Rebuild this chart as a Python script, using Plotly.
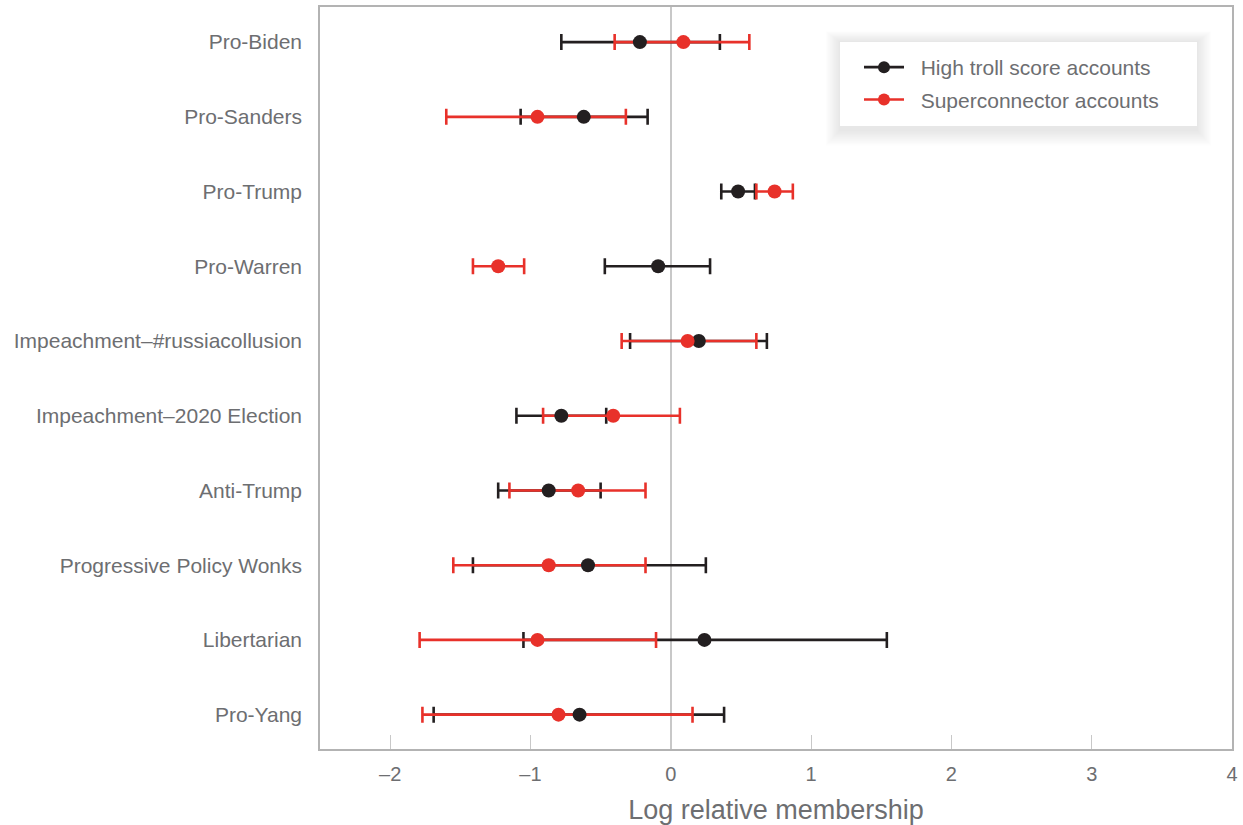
import plotly.graph_objects as go

categories = ["Pro-Biden", "Pro-Sanders", "Pro-Trump", "Pro-Warren",
              "Impeachment–#russiacollusion", "Impeachment–2020 Election",
              "Anti-Trump", "Progressive Policy Wonks", "Libertarian", "Pro-Yang"]

troll_est = [-0.22, -0.62, 0.48, -0.09, 0.20, -0.78, -0.87, -0.59, 0.24, -0.65]
troll_lo = [-0.78, -1.07, 0.36, -0.47, -0.29, -1.10, -1.23, -1.41, -1.05, -1.69]
troll_hi = [0.35, -0.165, 0.60, 0.28, 0.685, -0.46, -0.50, 0.25, 1.54, 0.38]

super_est = [0.09, -0.95, 0.74, -1.23, 0.12, -0.41, -0.66, -0.87, -0.95, -0.80]
super_lo = [-0.40, -1.60, 0.61, -1.41, -0.35, -0.91, -1.15, -1.55, -1.79, -1.77]
super_hi = [0.56, -0.32, 0.87, -1.045, 0.61, 0.065, -0.18, -0.18, -0.105, 0.155]

x_ticks = [-2, -1, 0, 1, 2, 3, 4]
x_tick_text = ["–2", "–1", "0", "1", "2", "3", "4"]

BLACK = "#231f20"
RED = "#e8312a"
GRAY_TXT = "#6d6e71"
FONT = "Liberation Sans, Arial, sans-serif"

ypos = list(range(len(categories)))

fig = go.Figure()

def err_trace(est, lo, hi, color):
    return go.Scatter(
        x=est, y=ypos, mode="markers",
        marker=dict(size=1, color="rgba(0,0,0,0)"),
        error_x=dict(type="data", symmetric=False,
                     array=[h - e for h, e in zip(hi, est)],
                     arrayminus=[e - l for e, l in zip(est, lo)],
                     color=color, thickness=2.6, width=8),
        showlegend=False, hoverinfo="skip")

fig.add_trace(err_trace(troll_est, troll_lo, troll_hi, BLACK))
fig.add_trace(err_trace(super_est, super_lo, super_hi, RED))
fig.add_trace(go.Scatter(x=troll_est, y=ypos, mode="markers",
                         marker=dict(size=14, color=BLACK), showlegend=False))
fig.add_trace(go.Scatter(x=super_est, y=ypos, mode="markers",
                         marker=dict(size=14, color=RED), showlegend=False))

# legend entries
fig.add_trace(go.Scatter(x=[None], y=[None], mode="lines+markers",
                         name="\u00a0\u00a0High troll score accounts", legendgroup="a",
                         line=dict(color=BLACK, width=2.6),
                         marker=dict(size=12, color=BLACK)))
fig.add_trace(go.Scatter(x=[None], y=[None], mode="lines+markers",
                         name="\u00a0\u00a0Superconnector accounts", legendgroup="b",
                         line=dict(color=RED, width=2.6),
                         marker=dict(size=12, color=RED)))

# legend shadow
W, H = 1243, 825
L, R, T, B = 320, 11, 7, 76
pw, ph = W - L - R, H - T - B
def px2paper_x(px):
    return (px - L) / pw
def px2paper_y(py):
    return 1 - (py - T) / ph

bx0, bx1, by0, by1 = 840, 1197, 42, 126
shapes = []
for i in range(1, 13):
    shapes.append(dict(type="rect", xref="paper", yref="paper",
                       x0=px2paper_x(bx0 - i * 1.2), x1=px2paper_x(bx1 + i * 1.2),
                       y0=px2paper_y(by1 + 4 + i * 1.3), y1=px2paper_y(by0 - i * 0.9),
                       fillcolor="rgba(0,0,0,0.009)", line=dict(width=0),
                       layer="above"))
shapes.append(dict(type="rect", xref="paper", yref="paper",
                   x0=px2paper_x(bx0), x1=px2paper_x(bx1),
                   y0=px2paper_y(by1), y1=px2paper_y(by0),
                   fillcolor="white", line=dict(width=0), layer="above"))

fig.update_layout(
    width=W, height=H,
    margin=dict(l=L, r=R, t=T, b=B, autoexpand=False),
    paper_bgcolor="white", plot_bgcolor="white",
    font=dict(family=FONT, color=GRAY_TXT, size=18),
    shapes=shapes,
    legend=dict(x=px2paper_x(bx0 + 19), y=px2paper_y(by0 + 5),
                xanchor="left", yanchor="top",
                bgcolor="rgba(0,0,0,0)", borderwidth=0,
                font=dict(size=21, color=GRAY_TXT, family=FONT),
                tracegroupgap=2, itemwidth=40),
    showlegend=True,
)

fig.update_xaxes(
    range=[-2.5, 4], tickvals=x_ticks, ticktext=x_tick_text,
    ticks="inside", ticklen=14, tickcolor="#c8c8c8", tickwidth=1,
    showgrid=False, zeroline=True, zerolinecolor="#c8c8c8", zerolinewidth=2,
    showline=True, linecolor="#b3b3b3", linewidth=1.5, mirror=True,
    tickfont=dict(size=20, color=GRAY_TXT), ticklabelstandoff=6,
    automargin=False,
    title=dict(text="Log relative membership", font=dict(size=27, color=GRAY_TXT),
               standoff=18),
)
fig.update_yaxes(
    range=[9.46, -0.47], tickvals=ypos, ticktext=categories,
    ticks="", showgrid=False, zeroline=False, automargin=False,
    showline=True, linecolor="#b3b3b3", linewidth=1.5, mirror=True,
    tickfont=dict(size=21, color=GRAY_TXT), ticklabelstandoff=12,
)

fig.write_html("out.html")
